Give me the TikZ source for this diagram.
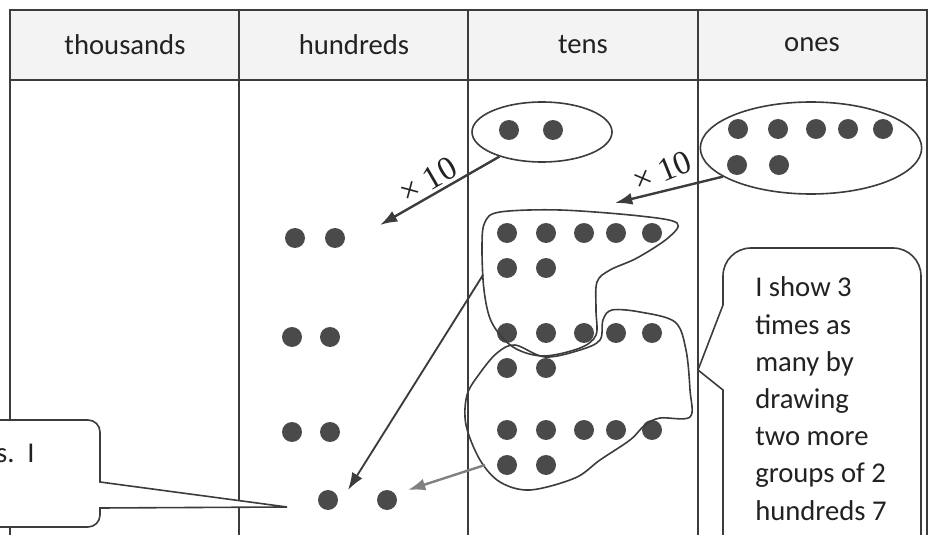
\documentclass[tikz,border=0pt]{standalone}
\usepackage{fontspec}
\setmainfont{Carlito}
\newfontfamily\serifnum{Liberation Serif}
\usetikzlibrary{shapes.geometric,arrows.meta}
\definecolor{inkgray}{HTML}{3C3C3C}
\definecolor{dotgray}{HTML}{4A4A4A}
\definecolor{headgray}{HTML}{F3F3F3}
\definecolor{textgray}{HTML}{222222}

\begin{document}
\begin{tikzpicture}[x=0.75pt, y=-0.75pt,
    counter/.style = {circle, fill=dotgray, minimum size=15pt, inner sep=0pt},
    ring/.style = {ellipse, draw=inkgray, line width=1.2pt, inner sep=0pt},
    tableLine/.style = {draw=inkgray, line width=1.1pt},
    blobLine/.style = {draw=inkgray, line width=1.2pt},
    headText/.style = {text=textgray, font=\fontsize{21.5}{25}\selectfont},
    timesArrow/.style = {-{Latex[length=13pt,width=9pt]}, line width=1.8pt, draw=inkgray},
    timesLabel/.style = {text=textgray, font=\serifnum\fontsize{25}{28}\selectfont, inner sep=0pt},
    note/.style = {draw=inkgray, line width=1.2pt, fill=white},
    noteText/.style = {text=textgray, font=\fontsize{21.5}{27.9}\selectfont, align=left, inner sep=0pt}]
    \useasboundingbox (0,0) rectangle (933,535);
    \clip (0,0) rectangle (933,535);
    % place value table
    \fill[headgray] (10,10) rectangle (927,80);
    \draw[tableLine] (10,545) -- (10,10) -- (927,10) -- (927,545);
    \draw[tableLine] (10,80) -- (927,80);
    \foreach \x in {239,468,698}
      \draw[tableLine] (\x,10) -- (\x,545);
    \node[headText] (thousands) at (125,45) {thousands};
    \node[headText] (hundreds)  at (354,45) {hundreds};
    \node[headText] (tens)      at (583,45) {tens};
    \node[headText] (ones)      at (812,45) {ones};
    % the number 27
    \node[ring, minimum width=105pt, minimum height=45pt] (tensGroup) at (542,132) {};
    \node[ring, minimum width=166pt, minimum height=69pt] (onesGroup) at (811,148) {};
    \foreach \x [count=\i] in {509,553}
      \node[counter] (tens\i) at (\x,130) {};
    \foreach \x [count=\i] in {738,778,816,848,883}
      \node[counter] (onesTop\i) at (\x,129) {};
    \foreach \x [count=\i] in {737,779}
      \node[counter] (onesLow\i) at (\x,165) {};
    % three groups of 27 in the tens
    \foreach \y [count=\j] in {233,333,430} {
      \foreach \x [count=\i] in {507,546,584,616,652}
        \node[counter] (groupTop\j\i) at (\x,\y) {};
      \foreach \x [count=\i] in {507,546}
        \node[counter] (groupLow\j\i) at (\x,\y+35) {};
    }
    % hundreds
    \node[counter] (hunA1) at (295,238) {};
    \node[counter] (hunA2) at (335,238) {};
    \node[counter] (hunB1) at (292,337) {};
    \node[counter] (hunB2) at (330,337) {};
    \node[counter] (hunC1) at (292,432) {};
    \node[counter] (hunC2) at (330,432) {};
    \node[counter] (hunD1) at (328,500) {};
    \node[counter] (hunD2) at (387,500) {};
    % loops round the regrouped tens
    \draw[blobLine] plot[smooth cycle, tension=0.55] coordinates {
      (485,222) (500,212) (560,210) (640,216) (677,223) (668,238) (637,258)
      (610,270) (597,282) (596,310) (596,335) (580,348) (543,356) (513,347)
      (492,323) (484,290) (482,245)};
    \draw[blobLine] plot[smooth cycle, tension=0.55] coordinates {
      (480,373) (497,353) (515,345) (545,357) (580,350) (600,340) (603,320)
      (612,310) (640,312) (675,322) (686,350) (690,390) (690,417) (660,418)
      (645,425) (630,440) (600,460) (575,478) (530,490) (500,482) (480,460)
      (466,425) (467,395)};
    % arrows
    \coordinate (tensTip)  at (380,225);
    \coordinate (onesTip)  at (615,203);
    \coordinate (blobHigh) at (483,275);
    \coordinate (bigTip)   at (348,490);
    \coordinate (blobLow)  at (485,465);
    \coordinate (smallTip) at (408,490);
    \draw[timesArrow] (tensGroup.210) -- (tensTip);
    \draw[timesArrow] (onesGroup.198) -- (onesTip);
    \draw[timesArrow, line width=1.4pt] (blobHigh) -- (bigTip);
    \draw[timesArrow, draw=gray] (blobLow) -- (smallTip);
    \node[timesLabel, rotate=30] (tensFactor) at (428,180) {× 10};
    \node[timesLabel, rotate=22] (onesFactor) at (662,171) {× 10};
    % callouts
    \draw[note] (100,508) [rounded corners=9pt] -- (100,527) -- (-30,527)
      -- (-30,420) -- (100,420) [sharp corners] -- (100,482) -- (287,507) -- cycle;
    \draw[note] (723,305) [rounded corners=21pt] -- (723,248) -- (921,248)
      -- (921,580) -- (723,580) [sharp corners] -- (723,390) -- (698,370) -- cycle;
    \node[noteText, anchor=base east] (leftNote) at (35,462) {s.\ \ I};
    \node[noteText, anchor=base west] (showNote) at (755,520)
      {I show 3\\times as\\many by\\drawing\\two more\\groups of 2\\hundreds 7};
  \end{tikzpicture}
\end{document}
